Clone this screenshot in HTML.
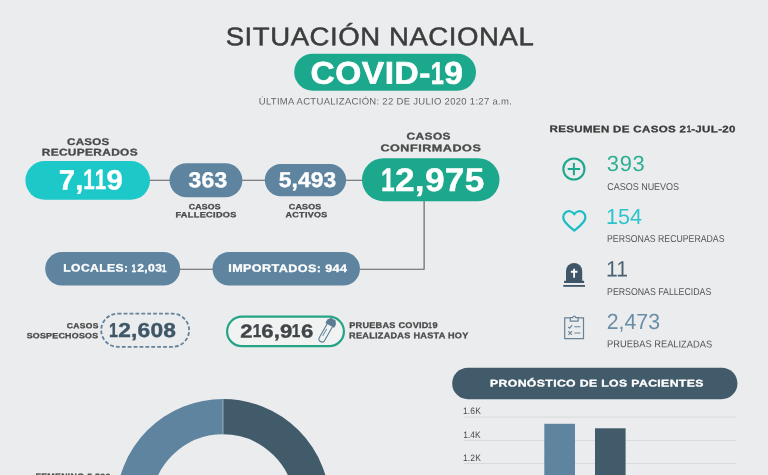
<!DOCTYPE html>
<html lang="es"><head><meta charset="utf-8"><title>Situación Nacional COVID-19</title>
<style>
html,body{margin:0;padding:0}
body{width:768px;height:475px;overflow:hidden;background:#eaeced;position:relative;font-family:"Liberation Sans",sans-serif}
.t{position:absolute;transform-origin:0 0;white-space:nowrap;line-height:1;font-family:"Liberation Sans",sans-serif}
.o{display:inline-block;transform:scaleX(.7);margin:0 -0.073em 0 -0.1em}
.p{position:absolute;box-sizing:border-box}
svg{position:absolute;left:0;top:0}
</style></head><body>
<svg width="768" height="475" viewBox="0 0 768 475">
<!-- connectors -->
<g stroke="#5c5d61" stroke-width="1.1" fill="none">
<path d="M148 180.3H364"/>
<path d="M424.1 200V269.2H180"/>
</g>
<!-- pills -->
<rect x="294.2" y="53.7" width="181.8" height="37" rx="18.5" fill="#1ca88c"/>
<rect x="25.4" y="161.1" width="124.6" height="38.7" rx="19.35" fill="#1cc8c8"/>
<rect x="169.5" y="163.2" width="72.9" height="34" rx="17" fill="#5e84a0"/>
<rect x="264.8" y="164" width="81.3" height="32.2" rx="16.1" fill="#5e84a0"/>
<rect x="362" y="158.2" width="137.5" height="43" rx="21.5" fill="#1ca88c"/>
<rect x="45.2" y="252" width="135" height="33.6" rx="16.8" fill="#5e84a0"/>
<rect x="212.5" y="252" width="147.5" height="33.6" rx="16.8" fill="#5e84a0"/>
<rect x="101.2" y="313.7" width="87.9" height="33.1" rx="16.55" fill="none" stroke="#64829a" stroke-width="1.8" stroke-dasharray="3.8 2.1"/>
<rect x="227.1" y="316.6" width="116.8" height="29.6" rx="14.8" fill="#f1f3f3" stroke="#27a387" stroke-width="2.2"/>
<rect x="452.2" y="367.7" width="285.2" height="31.5" rx="15.75" fill="#425b6b"/>
<!-- test tube -->
<g transform="translate(326.75 330.6) rotate(29.6)" stroke="#5b7c93" stroke-width="1.1" fill="none" stroke-linejoin="round">
<path d="M-3 -6.5V9.6A3 3 0 0 0 3 9.6V-6.5"/>
<path d="M-0.9 -1.5V6.5" stroke-width="0.9"/>
<path d="M-4.4 -6.5H4.4V-9.6L2.4 -12.6H-2.4L-4.4 -9.6Z" fill="#5b7c93"/>
</g>
<!-- plus icon -->
<g stroke="#1ca88c" stroke-width="2.1" fill="none">
<circle cx="573.9" cy="169" r="10.55"/>
<path d="M567.7 169.1H580.1M573.9 163V175.3" stroke-width="2"/>
</g>
<!-- heart -->
<path d="M574.3 230.6C571.3 228.3 567.4 224.9 565.1 222C562.5 218.9 562.7 214.8 565.3 212.6C568 210.3 572.2 210.8 574.3 214.3C576.4 210.8 580.6 210.3 583.3 212.6C585.9 214.8 586.1 218.9 583.5 222C581.2 224.9 577.3 228.3 574.3 230.6Z" fill="none" stroke="#1bbdc4" stroke-width="2.2" stroke-linejoin="round"/>
<!-- tombstone -->
<g fill="#3e5667">
<path d="M566 281V271A8.1 8.1 0 0 1 582.2 271V281Z"/>
<rect x="564.1" y="280.8" width="20" height="2.2"/>
<rect x="563.3" y="285" width="21.7" height="1.8"/>
</g>
<path d="M574.1 268.7V277.8M570.8 271.75H577.4" stroke="#fff" stroke-width="1.8" fill="none"/>
<!-- clipboard -->
<g stroke="#6a8298" stroke-width="1.2" fill="none">
<path d="M570.3 317.9H564.7V338.65H583.5V317.9H578"/>
<path d="M570.3 321.2V317.6H572.6Q574.2 314.6 575.8 317.6H578.1V321.2Z"/>
<path d="M568.2 326.8L569.6 328.2L572.2 325.2M574.3 326.8H580.4M568.4 331.2L572 334.8M572 331.2L568.4 334.8M574.3 333H580.4" stroke-width="1.1"/>
</g>
<!-- chart grid -->
<g stroke="#d6d9db" stroke-width="1">
<path d="M464 417.1H736M464 440.4H736M464 463.6H736"/>
</g>
<rect x="544.3" y="423.8" width="30.7" height="60" fill="#5e84a0"/>
<rect x="595" y="428.3" width="30.6" height="60" fill="#425b6b"/>
<!-- donut -->
<g fill="none" stroke-width="35.3">
<path d="M223 416.65A89.35 89.35 0 0 0 223 595.35" stroke="#5e84a0"/>
<path d="M223 416.65A89.35 89.35 0 0 1 223 595.35" stroke="#425b6b"/>
</g>
<path d="M223 398.5V434.5" stroke="#b9c6d0" stroke-width="0.7"/>
</svg>

<div class="t" style="-webkit-text-stroke:0.5px #3c3c3c;left:225px;top:24px;font-size:25.6px;font-weight:400;letter-spacing:0.532px;color:#3c3c3c;transform:translate(0.65px,0.18px) rotate(.03deg) scaleX(1.076)">SITUACIÓN NACIONAL</div>
<div class="t" style="-webkit-text-stroke:0.6px #ffffff;left:310px;top:57px;font-size:31.4px;font-weight:700;letter-spacing:0.491px;color:#ffffff;transform:translate(0.50px,0.77px) rotate(.03deg) scaleX(1.067)">COVID-<span class="o">1</span>9</div>
<div class="t" style="left:258px;top:96px;font-size:9.4px;font-weight:400;letter-spacing:0.288px;color:#666666;transform:translate(0.74px,0.43px) rotate(.03deg) scaleX(1.015)">ÚLTIMA ACTUALIZACIÓN: 22 DE JULIO 2020 1:27 a.m.</div>
<div class="t" style="-webkit-text-stroke:0.3px #4a4a4a;left:66px;top:136px;font-size:9.6px;font-weight:700;letter-spacing:0.270px;color:#4a4a4a;transform:translate(0.98px,0.99px) rotate(.03deg) scaleX(1.202)">CASOS</div>
<div class="t" style="-webkit-text-stroke:0.3px #4a4a4a;left:41px;top:147px;font-size:9.7px;font-weight:700;letter-spacing:0.273px;color:#4a4a4a;transform:translate(0.76px,0.55px) rotate(.03deg) scaleX(1.227)">RECUPERADOS</div>
<div class="t" style="-webkit-text-stroke:0.4px #ffffff;left:58px;top:166px;font-size:27.9px;font-weight:700;letter-spacing:0.216px;color:#ffffff;transform:translate(0.65px,0.43px) rotate(.03deg) scaleX(1.053)">7,<span class="o">1</span><span class="o">1</span>9</div>
<div class="t" style="-webkit-text-stroke:0.4px #ffffff;left:188px;top:169px;font-size:21.7px;font-weight:700;letter-spacing:0.174px;color:#ffffff;transform:translate(0.63px,0.19px) rotate(.03deg) scaleX(1.055)">363</div>
<div class="t" style="-webkit-text-stroke:0.4px #ffffff;left:278px;top:168px;font-size:21.2px;font-weight:700;letter-spacing:0.093px;color:#ffffff;transform:translate(0.86px,0.92px) rotate(.03deg) scaleX(1.074)">5,493</div>
<div class="t" style="-webkit-text-stroke:0.3px #4a4a4a;left:188px;top:203px;font-size:7.6px;font-weight:700;letter-spacing:0.165px;color:#4a4a4a;transform:translate(0.71px,0.13px) rotate(.03deg) scaleX(1.154)">CASOS</div>
<div class="t" style="-webkit-text-stroke:0.3px #4a4a4a;left:175px;top:211px;font-size:7.6px;font-weight:700;letter-spacing:0.272px;color:#4a4a4a;transform:translate(0.40px,0.20px) rotate(.03deg) scaleX(1.208)">FALLECIDOS</div>
<div class="t" style="-webkit-text-stroke:0.3px #4a4a4a;left:288px;top:203px;font-size:7.6px;font-weight:700;letter-spacing:0.175px;color:#4a4a4a;transform:translate(0.83px,0.31px) rotate(.03deg) scaleX(1.172)">CASOS</div>
<div class="t" style="-webkit-text-stroke:0.3px #4a4a4a;left:285px;top:211px;font-size:7.6px;font-weight:700;letter-spacing:0.286px;color:#4a4a4a;transform:translate(0.52px,0.20px) rotate(.03deg) scaleX(1.178)">ACTIVOS</div>
<div class="t" style="-webkit-text-stroke:0.3px #4a4a4a;left:406px;top:131px;font-size:9.7px;font-weight:700;letter-spacing:0.341px;color:#4a4a4a;transform:translate(0.49px,0.57px) rotate(.03deg) scaleX(1.230)">CASOS</div>
<div class="t" style="-webkit-text-stroke:0.3px #4a4a4a;left:380px;top:143px;font-size:9.7px;font-weight:700;letter-spacing:0.401px;color:#4a4a4a;transform:translate(0.44px,0.19px) rotate(.03deg) scaleX(1.300)">CONFIRMADOS</div>
<div class="t" style="-webkit-text-stroke:0.4px #ffffff;left:381px;top:163px;font-size:32.7px;font-weight:700;letter-spacing:0.262px;color:#ffffff;transform:translate(0.19px,0.93px) rotate(.03deg) scaleX(1.078)"><span class="o">1</span>2,975</div>
<div class="t" style="-webkit-text-stroke:0.3px #ffffff;left:63px;top:262px;font-size:10.8px;font-weight:700;letter-spacing:0.356px;color:#ffffff;transform:translate(0.33px,0.55px) rotate(.03deg) scaleX(1.120)">LOCALES: <span class="o">1</span>2,03<span class="o">1</span></div>
<div class="t" style="-webkit-text-stroke:0.3px #ffffff;left:228px;top:262px;font-size:10.8px;font-weight:700;letter-spacing:0.333px;color:#ffffff;transform:translate(0.28px,0.85px) rotate(.03deg) scaleX(1.168)">IMPORTADOS: 944</div>
<div class="t" style="-webkit-text-stroke:0.3px #4a4a4a;left:66px;top:322px;font-size:7.4px;font-weight:700;letter-spacing:0.332px;color:#4a4a4a;transform:translate(0.65px,0.17px) rotate(.03deg) scaleX(1.152)">CASOS</div>
<div class="t" style="-webkit-text-stroke:0.3px #4a4a4a;left:26px;top:332px;font-size:7.6px;font-weight:700;letter-spacing:0.205px;color:#4a4a4a;transform:translate(0.66px,0.21px) rotate(.03deg) scaleX(1.169)">SOSPECHOSOS</div>
<div class="t" style="-webkit-text-stroke:0.4px #3e5667;left:109px;top:320px;font-size:20.2px;font-weight:700;letter-spacing:0.217px;color:#3e5667;transform:translate(0.23px,0.05px) rotate(.03deg) scaleX(1.125)"><span class="o">1</span>2,608</div>
<div class="t" style="-webkit-text-stroke:0.4px #404548;left:240px;top:322px;font-size:18.6px;font-weight:700;letter-spacing:0.140px;color:#404548;transform:translate(0.16px,0.42px) rotate(.03deg) scaleX(1.187)">2<span class="o">1</span>6,9<span class="o">1</span>6</div>
<div class="t" style="-webkit-text-stroke:0.3px #4a4a4a;left:349px;top:320px;font-size:8.3px;font-weight:700;letter-spacing:0.234px;color:#4a4a4a;transform:translate(0.17px,0.94px) rotate(.03deg) scaleX(1.102)">PRUEBAS COVID<span class="o">1</span>9</div>
<div class="t" style="-webkit-text-stroke:0.3px #4a4a4a;left:349px;top:331px;font-size:8.3px;font-weight:700;letter-spacing:0.249px;color:#4a4a4a;transform:translate(0.04px,0.18px) rotate(.03deg) scaleX(1.100)">REALIZADAS HASTA HOY</div>
<div class="t" style="-webkit-text-stroke:0.3px #3c3c3c;left:549px;top:124px;font-size:9.4px;font-weight:700;letter-spacing:0.290px;color:#3c3c3c;transform:translate(0.55px,0.12px) rotate(.03deg) scaleX(1.227)">RESUMEN DE CASOS 2<span class="o">1</span>-JUL-20</div>
<div class="t" style="left:606px;top:153px;font-size:21.9px;font-weight:400;letter-spacing:0.669px;color:#2cae94;transform:translate(0.86px,0.01px) rotate(.03deg) scaleX(1.000)">393</div>
<div class="t" style="left:607px;top:182px;font-size:9.9px;font-weight:400;letter-spacing:-0.013px;color:#555555;transform:translate(0.18px,0.21px) rotate(.03deg) scaleX(0.912)">CASOS NUEVOS</div>
<div class="t" style="left:606px;top:206px;font-size:21.9px;font-weight:400;letter-spacing:0.000px;color:#2cc4cc;transform:translate(0.02px,0.01px) rotate(.03deg) scaleX(0.982)">154</div>
<div class="t" style="left:607px;top:234px;font-size:10.0px;font-weight:400;letter-spacing:-0.001px;color:#555555;transform:translate(0.00px,0.15px) rotate(.03deg) scaleX(0.874)">PERSONAS RECUPERADAS</div>
<div class="t" style="left:606px;top:258px;font-size:22.2px;font-weight:400;letter-spacing:-0.039px;color:#4a6172;transform:translate(0.05px,0.56px) rotate(.03deg) scaleX(0.952)">11</div>
<div class="t" style="left:607px;top:286px;font-size:9.9px;font-weight:400;letter-spacing:-0.014px;color:#555555;transform:translate(0.06px,0.51px) rotate(.03deg) scaleX(0.889)">PERSONAS FALLECIDAS</div>
<div class="t" style="left:606px;top:311px;font-size:21.9px;font-weight:400;letter-spacing:-0.029px;color:#698ca7;transform:translate(0.81px,0.09px) rotate(.03deg) scaleX(0.973)">2,473</div>
<div class="t" style="left:607px;top:339px;font-size:10.0px;font-weight:400;letter-spacing:-0.012px;color:#555555;transform:translate(0.04px,0.34px) rotate(.03deg) scaleX(0.934)">PRUEBAS REALIZADAS</div>
<div class="t" style="-webkit-text-stroke:0.3px #ffffff;left:490px;top:378px;font-size:9.7px;font-weight:700;letter-spacing:0.284px;color:#ffffff;transform:translate(0.03px,0.40px) rotate(.03deg) scaleX(1.265)">PRONÓSTICO DE LOS PACIENTES</div>
<div class="t" style="left:462px;top:407px;font-size:9.3px;font-weight:400;letter-spacing:0.143px;color:#4a4a4a;transform:translate(0.96px,0.13px) rotate(.03deg) scaleX(0.912)">1.6K</div>
<div class="t" style="left:463px;top:430px;font-size:9.3px;font-weight:400;letter-spacing:0.000px;color:#4a4a4a;transform:translate(0.23px,0.71px) rotate(.03deg) scaleX(0.912)">1.4K</div>
<div class="t" style="left:462px;top:454px;font-size:9.3px;font-weight:400;letter-spacing:0.143px;color:#4a4a4a;transform:translate(0.96px,0.13px) rotate(.03deg) scaleX(0.912)">1.2K</div>
<div class="t" style="-webkit-text-stroke:0.3px #4a4a4a;left:35px;top:472px;font-size:8.3px;font-weight:700;letter-spacing:0.265px;color:#4a4a4a;transform:translate(0.51px,0.35px) rotate(.03deg) scaleX(1.065)">FEMENINO 5,593</div>
</body></html>
